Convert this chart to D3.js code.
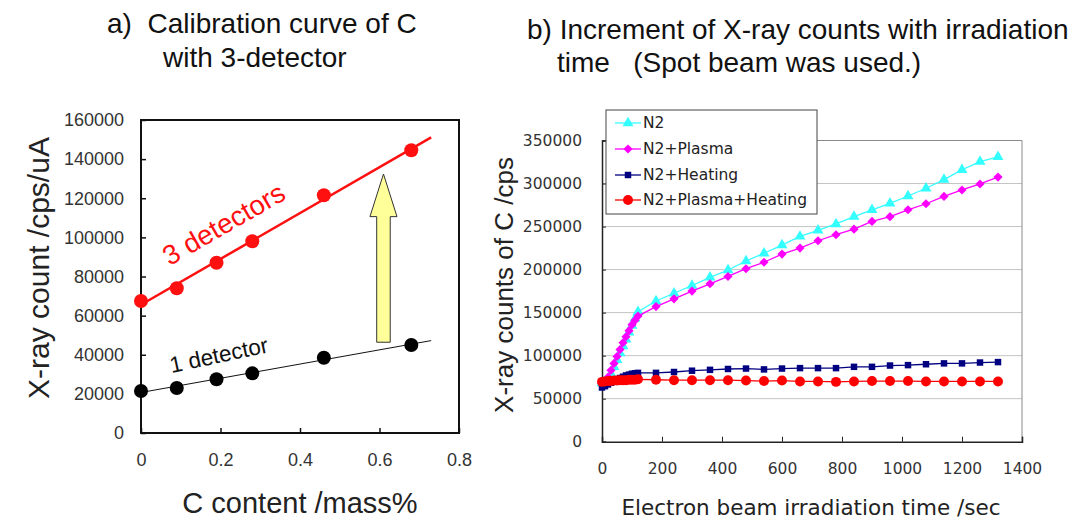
<!DOCTYPE html>
<html>
<head>
<meta charset="utf-8">
<script src="https://cdn.jsdelivr.net/npm/d3@7"></script>
<style>
  body { margin: 0; background: #fff; }
  svg { display: block; }
</style>
</head>
<body>
<script>
// ---- data: a) calibration curve ----
var cContent = [0, 0.09, 0.19, 0.28, 0.46, 0.68];
var count3Det = [67500, 74000, 87000, 98000, 121500, 144500];
var count1Det = [21500, 23000, 27500, 30500, 38500, 45000];
var calYTicks = [0, 20000, 40000, 60000, 80000, 100000, 120000, 140000, 160000];
var calXTicks = [0, 0.2, 0.4, 0.6, 0.8];

// ---- data: b) counts vs irradiation time ----
var timeSec = [0, 10, 20, 30, 40, 50, 60, 70, 80, 90, 100, 110, 120,
  180, 240, 300, 360, 420, 480, 540, 600, 660, 720, 780, 840, 900, 960,
  1020, 1080, 1140, 1200, 1260, 1320];
var n2 = [68000, 70000, 72000, 79000, 87000, 95000, 103000, 111000, 119000, 127000, 135000, 143000, 151000,
  163500, 172500, 181500, 191000, 199500, 210000, 219000, 228500, 238500, 245500, 253000, 261500,
  269500, 277000, 285500, 294500, 304500, 316000, 325500, 331000];
var n2Plasma = [68000, 70500, 75000, 83000, 91000, 99000, 107000, 115000, 122000, 129000, 136000, 141000, 146000,
  157000, 166000, 175000, 183500, 192000, 201000, 208500, 218000, 225000, 233500, 240500, 247000,
  256000, 261500, 269500, 276500, 285000, 292500, 299500, 307500];
var n2Heating = [63000, 64500, 66500, 68500, 70500, 72500, 74000, 75500, 77000, 78000, 79000, 79500, 80000,
  80000, 81000, 82500, 83500, 84500, 85000, 84000, 85000, 85500, 85500, 85500, 87000,
  87000, 88500, 89000, 90000, 91000, 91000, 92000, 92500];
var n2PlasmaHeating = [69500, 70000, 70500, 70500, 71000, 71000, 71500, 71500, 71500, 72000, 72000, 72000, 72500,
  72000, 71500, 71500, 71500, 71500, 71000, 70500, 71000, 70000, 70000, 69500, 70000,
  70500, 70500, 70500, 70000, 70000, 70000, 70000, 70000];
var seriesNames = ["N2", "N2+Plasma", "N2+Heating", "N2+Plasma+Heating"];
var timeYTicks = [0, 50000, 100000, 150000, 200000, 250000, 300000, 350000];
var timeXTicks = [0, 200, 400, 600, 800, 1000, 1200, 1400];

var svg = d3.select("body").append("svg")
    .attr("width", 1072)
    .attr("height", 521);

renderCalibration();
renderIrradiation();

//Left panel
function renderCalibration() {
    var xScale = d3.scaleLinear().domain([0, 0.8]).range([141, 459]);
    var yScale = d3.scaleLinear().domain([0, 160000]).range([433, 120]);
    var g = svg.append("g");

    // title
    var title = g.append("text")
        .attr("font-family", "Liberation Sans, Arial, sans-serif")
        .attr("font-size", 28)
        .attr("fill", "#111");
    title.append("tspan").attr("x", 107).attr("y", 33).attr("xml:space", "preserve").text("a)  Calibration curve of C");
    title.append("tspan").attr("x", 163).attr("y", 67).text("with 3-detector");

    // axes
    g.append("g")
        .attr("transform", "translate(141,0)")
        .call(d3.axisLeft(yScale).tickValues(calYTicks).tickSize(-5).tickPadding(17).tickFormat(d3.format("d")))
        .call(a => a.select(".domain").remove())
        .call(a => a.selectAll("line").attr("stroke", "#111").attr("stroke-width", 1.5))
        .call(a => a.selectAll("text").attr("font-family", "Liberation Sans, Arial, sans-serif").attr("font-size", 18).attr("fill", "#333"));

    g.append("g")
        .attr("transform", "translate(0,433)")
        .call(d3.axisBottom(xScale).tickValues(calXTicks).tickSize(-5).tickPadding(20)
            .tickFormat(d => d === 0 ? "0" : d3.format(".1f")(d)))
        .call(a => a.select(".domain").remove())
        .call(a => a.selectAll("line").attr("stroke", "#111").attr("stroke-width", 1.5))
        .call(a => a.selectAll("text").attr("font-family", "Liberation Sans, Arial, sans-serif").attr("font-size", 18).attr("fill", "#333"));

    g.append("rect")
        .attr("x", xScale(0)).attr("y", yScale(160000))
        .attr("width", xScale(0.8) - xScale(0))
        .attr("height", yScale(0) - yScale(160000))
        .attr("fill", "none").attr("stroke", "#111").attr("stroke-width", 2);

    // axis titles
    g.append("text")
        .attr("x", 300).attr("y", 513)
        .attr("text-anchor", "middle")
        .attr("font-family", "Liberation Sans, Arial, sans-serif")
        .attr("font-size", 29).attr("fill", "#222")
        .text("C content /mass%");
    g.append("text")
        .attr("transform", "translate(49,268) rotate(-90)")
        .attr("text-anchor", "middle")
        .attr("font-family", "Liberation Sans, Arial, sans-serif")
        .attr("font-size", 30).attr("fill", "#222")
        .text("X-ray count /cps/uA");

    // least squares lines
    function fit(xs, ys) {
        var mx = d3.mean(xs), my = d3.mean(ys);
        var sxy = d3.sum(xs, (x, i) => (x - mx) * (ys[i] - my));
        var sxx = d3.sum(xs, x => (x - mx) * (x - mx));
        var b = sxy / sxx;
        return { a: my - b * mx, b: b };
    }
    var f3 = fit(cContent, count3Det);
    var f1 = fit(cContent, count1Det);
    var xEnd = 0.73;

    g.append("line")
        .attr("x1", xScale(0)).attr("y1", yScale(f3.a))
        .attr("x2", xScale(xEnd)).attr("y2", yScale(f3.a + f3.b * xEnd))
        .attr("stroke", "#ff1010").attr("stroke-width", 2.5);
    g.append("line")
        .attr("x1", xScale(0)).attr("y1", yScale(f1.a))
        .attr("x2", xScale(xEnd)).attr("y2", yScale(f1.a + f1.b * xEnd))
        .attr("stroke", "#111").attr("stroke-width", 1);

    // yellow arrow
    var ax = 0.61, shaftW = 0.017, headW = 0.034;
    var arrowPts = [
        [ax - shaftW, 46400], [ax - shaftW, 110600], [ax - headW, 110600], [ax, 132400],
        [ax + headW, 110600], [ax + shaftW, 110600], [ax + shaftW, 46400]
    ];
    g.append("path")
        .attr("d", d3.line().x(d => xScale(d[0])).y(d => yScale(d[1]))(arrowPts) + "Z")
        .attr("fill", "#ffff99").attr("stroke", "#333").attr("stroke-width", 1);

    g.selectAll(".dot3").data(cContent).join("circle")
        .attr("class", "dot3")
        .attr("cx", d => xScale(d)).attr("cy", (d, i) => yScale(count3Det[i]))
        .attr("r", 7).attr("fill", "#ff1010");
    g.selectAll(".dot1").data(cContent).join("circle")
        .attr("class", "dot1")
        .attr("cx", d => xScale(d)).attr("cy", (d, i) => yScale(count1Det[i]))
        .attr("r", 7).attr("fill", "#000");

    g.append("text")
        .attr("transform", `translate(${xScale(0.208)},${yScale(106800)}) rotate(-30)`)
        .attr("text-anchor", "middle").attr("dominant-baseline", "central")
        .attr("font-family", "Liberation Sans, Arial, sans-serif")
        .attr("font-size", 27.5).attr("fill", "#ff1010")
        .text("3 detectors");
    g.append("text")
        .attr("transform", `translate(${xScale(0.196)},${yScale(39800)}) rotate(-12)`)
        .attr("text-anchor", "middle").attr("dominant-baseline", "central")
        .attr("font-family", "Liberation Sans, Arial, sans-serif")
        .attr("font-size", 22.5).attr("fill", "#111")
        .text("1 detector");
}

//Right panel
function renderIrradiation() {
    var xScale = d3.scaleLinear().domain([0, 1400]).range([602, 1022]);
    var yScale = d3.scaleLinear().domain([0, 350000]).range([441.7, 140.5]);
    var g = svg.append("g");
    var font = "DejaVu Sans, Verdana, sans-serif";

    var title = g.append("text")
        .attr("font-family", "Liberation Sans, Arial, sans-serif")
        .attr("font-size", 28)
        .attr("fill", "#111");
    title.append("tspan").attr("x", 527).attr("y", 39).text("b) Increment of X-ray counts with irradiation");
    title.append("tspan").attr("x", 557).attr("y", 72).attr("xml:space", "preserve").text("time   (Spot beam was used.)");

    // grid
    g.append("g").selectAll("line")
        .data(timeYTicks.filter(d => d > 0))
        .join("line")
        .attr("x1", xScale(0)).attr("x2", xScale(1400))
        .attr("y1", d => yScale(d)).attr("y2", d => yScale(d))
        .attr("stroke", d => d === 350000 ? "#8a8a8a" : "#c4c4c4")
        .attr("stroke-width", 1);
    g.append("line")
        .attr("x1", xScale(1400)).attr("x2", xScale(1400))
        .attr("y1", yScale(350000)).attr("y2", yScale(0))
        .attr("stroke", "#8a8a8a");

    g.append("g")
        .attr("transform", `translate(${xScale(0)},0)`)
        .call(d3.axisLeft(yScale).tickValues(timeYTicks).tickSize(-4).tickPadding(20).tickFormat(d3.format("d")))
        .call(a => a.select(".domain").attr("stroke", "#222").attr("stroke-width", 1.5))
        .call(a => a.selectAll(".tick line").attr("stroke", "#222"))
        .call(a => a.selectAll("text").attr("font-family", font).attr("font-size", 15.5).attr("fill", "#333"));

    g.append("g")
        .attr("transform", `translate(0,${yScale(0)})`)
        .call(d3.axisBottom(xScale).tickValues(timeXTicks).tickSize(-5).tickPadding(21).tickFormat(d3.format("d")))
        .call(a => a.select(".domain").attr("stroke", "#222").attr("stroke-width", 1.5))
        .call(a => a.selectAll(".tick line").attr("stroke", "#222"))
        .call(a => a.selectAll("text").attr("font-family", font).attr("font-size", 15.5).attr("fill", "#333"));

    g.append("text")
        .attr("x", 811).attr("y", 515)
        .attr("text-anchor", "middle")
        .attr("font-family", font).attr("font-size", 21.5).attr("fill", "#222")
        .text("Electron beam irradiation time /sec");
    g.append("text")
        .attr("transform", "translate(513,285) rotate(-90)")
        .attr("text-anchor", "middle")
        .attr("font-family", "Liberation Sans, Arial, sans-serif").attr("font-size", 26).attr("fill", "#222")
        .text("X-ray counts of C /cps");

    var series = [
        { name: seriesNames[0], values: n2, color: "#33ffff", symbol: d3.symbolTriangle, size: 52, rot: 0 },
        { name: seriesNames[1], values: n2Plasma, color: "#ff00ff", symbol: d3.symbolSquare, size: 42, rot: 45 },
        { name: seriesNames[2], values: n2Heating, color: "#000080", symbol: d3.symbolSquare, size: 42, rot: 0 },
        { name: seriesNames[3], values: n2PlasmaHeating, color: "#ff0000", symbol: d3.symbolCircle, size: 78, rot: 0 }
    ];

    var line = d3.line()
        .x((d, i) => xScale(timeSec[i]))
        .y(d => yScale(d));

    series.forEach(s => {
        var sg = g.append("g");
        sg.append("path")
            .attr("d", line(s.values))
            .attr("fill", "none").attr("stroke", s.color).attr("stroke-width", 1.3);
        sg.selectAll("path.mark").data(s.values).join("path")
            .attr("class", "mark")
            .attr("transform", (d, i) => `translate(${xScale(timeSec[i])},${yScale(d)}) rotate(${s.rot})`)
            .attr("d", d3.symbol().type(s.symbol).size(s.size)())
            .attr("fill", s.color);
    });

    // legend
    var lg = g.append("g");
    lg.append("rect")
        .attr("x", 606).attr("y", 110).attr("width", 211).attr("height", 104)
        .attr("fill", "#fff").attr("stroke", "#444").attr("stroke-width", 1);
    var rowY = [123, 149, 175, 200];
    series.forEach((s, i) => {
        lg.append("line")
            .attr("x1", 615).attr("x2", 641).attr("y1", rowY[i]).attr("y2", rowY[i])
            .attr("stroke", s.color).attr("stroke-width", 1.3);
        lg.append("path")
            .attr("transform", `translate(628,${rowY[i]}) rotate(${s.rot})`)
            .attr("d", d3.symbol().type(s.symbol).size(s.size)())
            .attr("fill", s.color);
        lg.append("text")
            .attr("x", 643).attr("y", rowY[i])
            .attr("dominant-baseline", "central")
            .attr("font-family", font).attr("font-size", 15.5).attr("fill", "#222")
            .text(s.name);
    });
}
</script>
</body>
</html>
